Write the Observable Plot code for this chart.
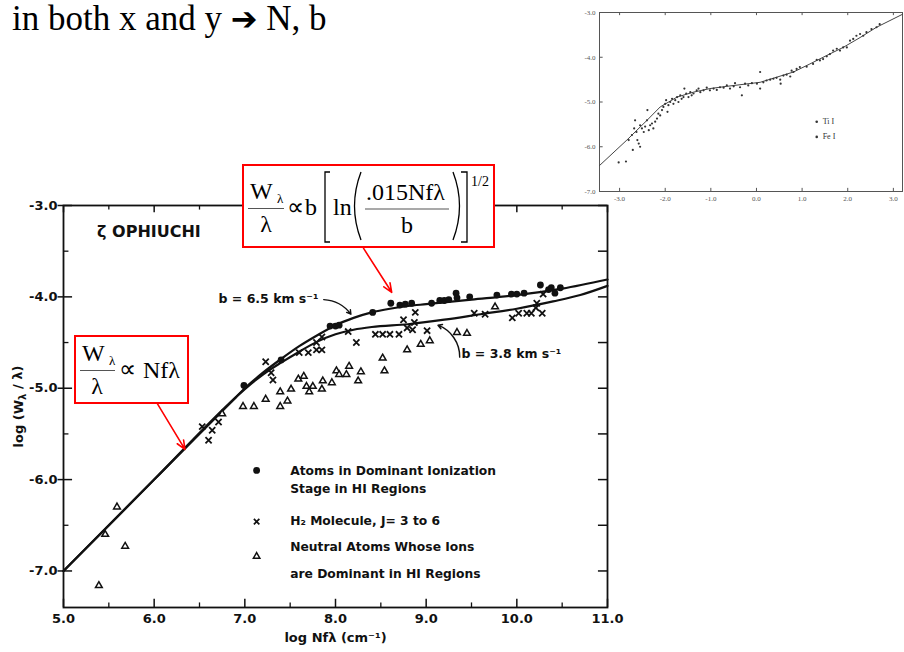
<!DOCTYPE html>
<html><head><meta charset="utf-8">
<script src="https://cdn.jsdelivr.net/npm/d3@7"></script>
<script src="https://cdn.jsdelivr.net/npm/@observablehq/plot@0.6"></script>
<style>
html,body{margin:0;padding:0;background:#fff;}
#page{position:relative;width:904px;height:652px;overflow:hidden;background:#fff;}
#title{position:absolute;left:12px;top:1px;font-family:"Liberation Serif",serif;font-size:35px;line-height:35px;color:#000;white-space:nowrap;}
#title .arr{font-family:"DejaVu Sans";font-weight:bold;font-size:32px;}
#main{position:absolute;left:0;top:150px;}
#inset{position:absolute;left:565px;top:0;}
#overlay{position:absolute;left:0;top:0;pointer-events:none;}
</style></head><body><div id="page">
<div id="title">in both x and y <span class="arr">➔</span> N, b</div>
<div id="inset"></div>
<div id="main"></div>
<div id="overlay"></div>
</div>
<script>
// ---------- main chart data (log Nfλ, log Wλ/λ) ----------
const xTicks = [5, 6, 7, 8, 9, 10, 11];
const xMinorTicks = [5.5, 6.5, 7.5, 8.5, 9.5, 10.5];
const yTicks = [-3, -4, -5, -6, -7];
const yMinorTicks = [-3.5, -4.5, -5.5, -6.5];

const ionX = [6.99,7.40,7.94,8.00,8.04,8.41,8.61,8.71,8.77,8.84,9.06,9.15,9.20,9.25,9.33,9.34,9.48,9.78,9.94,10.00,10.08,10.26,10.35,10.38,10.42,10.48];
const ionY = [-4.97,-4.69,-4.32,-4.32,-4.31,-4.17,-4.07,-4.09,-4.08,-4.07,-4.07,-4.04,-4.04,-4.03,-3.96,-4.01,-4.00,-3.98,-3.97,-3.97,-3.96,-3.87,-3.92,-3.90,-3.96,-3.90];

const h2X = [6.53,6.64,6.60,6.71,7.23,7.29,7.31,7.60,7.70,7.79,7.85,7.79,7.85,8.14,8.23,8.44,8.52,8.60,8.70,8.75,8.79,8.85,8.87,8.88,9.01,9.53,9.65,9.95,10.02,10.11,10.16,10.21,10.22,10.28,10.29];
const h2Y = [-5.42,-5.46,-5.57,-5.37,-4.71,-4.83,-4.91,-4.61,-4.61,-4.50,-4.44,-4.58,-4.58,-4.38,-4.50,-4.41,-4.41,-4.41,-4.41,-4.25,-4.34,-4.36,-4.28,-4.17,-4.37,-4.18,-4.19,-4.23,-4.18,-4.18,-4.18,-4.12,-4.07,-4.18,-3.97];

const neuX = [5.39,5.46,5.59,5.68,6.75,6.98,7.10,7.23,7.39,7.39,7.47,7.51,7.59,7.65,7.68,7.71,7.75,7.86,7.85,7.96,8.01,8.04,8.12,8.15,8.25,8.28,8.52,8.54,8.79,8.94,9.04,9.34,9.45,9.76];
const neuY = [-7.16,-6.60,-6.30,-6.73,-5.28,-5.20,-5.20,-5.12,-5.04,-5.20,-5.14,-5.01,-4.90,-4.87,-4.98,-5.04,-4.98,-4.92,-5.01,-4.94,-4.81,-4.85,-4.85,-4.76,-4.92,-4.82,-4.67,-4.81,-4.58,-4.52,-4.48,-4.39,-4.40,-4.11];

const curve65X = [5.0,6.0,6.9,7.0,7.2,7.4,7.6,7.8,8.0,8.2,8.4,8.6,8.8,9.0,9.5,10.0,10.5,11.0];
const curve65Y = [-7.0,-6.0,-5.1,-5.0,-4.83,-4.68,-4.54,-4.42,-4.31,-4.23,-4.17,-4.13,-4.10,-4.08,-4.03,-3.98,-3.91,-3.81];
const curve38X = [5.0,6.0,6.9,7.0,7.2,7.4,7.6,7.8,8.0,8.2,8.4,8.8,9.2,9.6,10.0,10.4,10.7,11.0];
const curve38Y = [-7.0,-6.0,-5.1,-5.01,-4.85,-4.72,-4.60,-4.49,-4.41,-4.36,-4.33,-4.30,-4.25,-4.19,-4.13,-4.05,-3.98,-3.88];

const legendLabels = ["Atoms in Dominant Ionization", "Stage in HI Regions", "H₂ Molecule, J= 3 to 6", "Neutral Atoms Whose Ions", "are Dominant in HI Regions"];

// ---------- inset chart data ----------
const insetTicksX = [-3, -2, -1, 0, 1, 2, 3];
const insetTicksY = [-3, -4, -5, -6, -7];
const insetX = [-3.02,-2.86,-2.80,-2.73,-2.68,-2.66,-2.61,-2.71,-2.58,-2.55,-2.63,-2.55,-2.51,-2.47,-2.44,-2.39,-2.40,-2.36,-2.33,-2.29,-2.26,-2.22,-2.18,-2.15,-2.11,-2.07,-2.04,-2.00,-1.98,-1.95,-1.93,-1.89,-1.85,-1.82,-1.78,-1.74,-1.71,-1.67,-1.64,-1.60,-1.58,-1.54,-1.49,-1.45,-1.42,-1.38,-1.31,-1.27,-1.23,-1.16,-1.09,-1.02,-0.94,-0.87,-0.80,-0.72,-0.65,-0.58,-0.50,-0.47,-0.36,-0.32,-0.25,-0.18,-0.10,0.01,0.08,0.08,0.15,0.22,0.30,0.37,0.44,0.52,0.53,0.59,0.66,0.74,0.77,0.81,0.88,0.95,1.10,1.24,1.32,1.39,1.46,1.54,1.61,1.68,1.76,1.83,1.90,1.98,2.05,2.12,2.19,2.27,2.34,2.41,2.52,2.63,2.70];
const insetY = [-6.35,-6.33,-5.85,-5.74,-5.59,-5.41,-5.85,-6.07,-5.93,-6.00,-5.67,-5.52,-5.59,-5.67,-5.55,-5.18,-5.41,-5.63,-5.52,-5.48,-5.59,-5.44,-5.37,-5.26,-5.30,-5.18,-5.11,-5.04,-4.96,-5.22,-5.07,-5.00,-4.93,-5.04,-4.96,-4.89,-5.00,-4.85,-4.93,-4.89,-4.70,-4.81,-4.89,-4.78,-4.85,-4.81,-4.74,-4.70,-4.78,-4.74,-4.68,-4.74,-4.70,-4.73,-4.67,-4.68,-4.63,-4.70,-4.65,-4.58,-4.67,-4.85,-4.59,-4.63,-4.58,-4.59,-4.33,-4.70,-4.56,-4.52,-4.50,-4.48,-4.46,-4.50,-4.59,-4.41,-4.39,-4.43,-4.30,-4.33,-4.26,-4.22,-4.21,-4.15,-4.06,-4.07,-4.04,-3.98,-3.93,-3.85,-3.81,-3.85,-3.78,-3.78,-3.63,-3.59,-3.52,-3.48,-3.52,-3.44,-3.37,-3.33,-3.26];
const insetCurveX = [-3.44,-2.84,-2.40,-2.11,-1.74,-1.38,-1.02,-0.65,0.08,0.81,1.17,1.54,1.90,2.27,2.63,3.2];
const insetCurveY = [-6.42,-5.85,-5.41,-5.11,-4.89,-4.78,-4.70,-4.65,-4.56,-4.33,-4.15,-3.96,-3.78,-3.56,-3.33,-3.04];
const insetLegend = ["Ti I", "Fe I"];

// ---------- build tables ----------
const zip = (xs, ys) => xs.map((x, i) => ({x, y: ys[i]}));
const ion = zip(ionX, ionY), h2 = zip(h2X, h2Y), neu = zip(neuX, neuY);
const c65 = zip(curve65X, curve65Y), c38 = zip(curve38X, curve38Y);
const fmt = d => d.toFixed(1);
const INK = "#111";

const main = Plot.plot({
  width: 640, height: 502,
  marginLeft: 63, marginRight: 33, marginTop: 55, marginBottom: 45,
  x: {domain: [5, 11]},
  y: {domain: [-7.4, -3.0]},
  style: {fontFamily: "DejaVu Sans", fontSize: "13px", fontWeight: "bold", color: INK, background: "transparent", overflow: "visible"},
  marks: [
    Plot.frame({stroke: INK, strokeWidth: 1.8}),
    Plot.axisX(xTicks, {tickSize: 0, tickPadding: 6, tickFormat: fmt, label: "log Nfλ (cm⁻¹)", labelAnchor: "center", labelOffset: 34, labelArrow: "none", fontSize: 13}),
    Plot.axisY(yTicks, {tickSize: 0, tickPadding: 6, tickFormat: fmt, label: "log (Wλ / λ)", labelAnchor: "center", labelOffset: 50, labelArrow: "none", fontSize: 13}),
    // inward ticks
    Plot.ruleX(xTicks, {x: d => d, y1: -7.4, y2: -7.31, stroke: INK, strokeWidth: 1.5}),
    Plot.ruleX(xMinorTicks, {x: d => d, y1: -7.4, y2: -7.35, stroke: INK, strokeWidth: 1.3}),
    Plot.ruleX(xTicks, {x: d => d, y1: -3.0, y2: -3.08, stroke: INK, strokeWidth: 1.5}),
    Plot.ruleX(xMinorTicks, {x: d => d, y1: -3.0, y2: -3.05, stroke: INK, strokeWidth: 1.3}),
    Plot.ruleY(yTicks, {y: d => d, x1: 4.94, x2: 5.1, stroke: INK, strokeWidth: 1.5}),
    Plot.ruleY(yMinorTicks, {y: d => d, x1: 5.0, x2: 5.06, stroke: INK, strokeWidth: 1.3}),
    Plot.ruleY(yTicks.concat(yMinorTicks), {y: d => d, x1: 11, x2: 10.9, stroke: INK, strokeWidth: 1.5}),
    // curves of growth
    Plot.line(c65, {x: "x", y: "y", curve: "monotone-x", stroke: INK, strokeWidth: 2.2}),
    Plot.line(c38, {x: "x", y: "y", curve: "monotone-x", stroke: INK, strokeWidth: 2.2}),
    // data
    Plot.dot(neu, {x: "x", y: "y", symbol: "triangle", r: 2.5, stroke: INK, strokeWidth: 1.5, fill: "white"}),
    Plot.dot(h2, {x: "x", y: "y", symbol: "times", r: 2.9, stroke: INK, strokeWidth: 1.8}),
    Plot.dot(ion, {x: "x", y: "y", r: 3.4, fill: INK, stroke: "none"}),
    // labels
    Plot.text([{x: 5.37, y: -3.29, t: "ζ OPHIUCHI"}], {x: "x", y: "y", text: "t", textAnchor: "start", fontSize: 16, fontWeight: "bold", fill: INK}),
    Plot.text([{x: 6.71, y: -4.02, t: "b = 6.5 km s⁻¹"}, {x: 9.39, y: -4.63, t: "b = 3.8 km s⁻¹"}], {x: "x", y: "y", text: "t", textAnchor: "start", fontSize: 12.5, fontWeight: "bold", fill: INK}),
    Plot.arrow([{x1: 7.87, y1: -4.03, x2: 8.17, y2: -4.19}], {x1: "x1", y1: "y1", x2: "x2", y2: "y2", bend: 25, headLength: 5, stroke: INK, strokeWidth: 1.4}),
    Plot.arrow([{x1: 9.37, y1: -4.66, x2: 9.13, y2: -4.31}], {x1: "x1", y1: "y1", x2: "x2", y2: "y2", bend: -35, headLength: 5, stroke: INK, strokeWidth: 1.4}),
    // legend
    Plot.dot([{x: 7.13, y: -5.90}], {x: "x", y: "y", r: 3.4, fill: INK}),
    Plot.dot([{x: 7.13, y: -6.46}], {x: "x", y: "y", symbol: "times", r: 2.6, stroke: INK, strokeWidth: 1.7}),
    Plot.dot([{x: 7.13, y: -6.84}], {x: "x", y: "y", symbol: "triangle", r: 2.4, stroke: INK, strokeWidth: 1.5}),
    Plot.text(legendLabels.map((t, i) => ({t, y: [-5.91, -6.10, -6.45, -6.74, -7.03][i]})), {x: () => 7.5, y: "y", text: "t", textAnchor: "start", fontSize: 12.3, fontWeight: "bold", fill: INK}),
    // red annotation arrows
    Plot.arrow([{x1: 8.31, y1: -3.47, x2: 8.62, y2: -3.95}, {x1: 6.03, y1: -5.16, x2: 6.34, y2: -5.67}], {x1: "x1", y1: "y1", x2: "x2", y2: "y2", stroke: "#ff0000", strokeWidth: 1.6, headLength: 9, headAngle: 45})
  ]
});
// subscript λ in y label
{
  const lab = main.querySelector('g[aria-label="y-axis label"] text');
  if (lab) {
    const sel = d3.select(lab); sel.text(null);
    sel.append("tspan").text("log (W");
    sel.append("tspan").attr("dy", "0.3em").attr("font-size", "10px").text("λ");
    sel.append("tspan").attr("dy", "-0.3em").text(" / λ)");
  }
}
document.getElementById("main").append(main);

// ---------- inset ----------
const inset = Plot.plot({
  width: 339, height: 210,
  marginLeft: 34, marginRight: 2, marginTop: 12, marginBottom: 19,
  x: {domain: [-3.44, 3.2]},
  y: {domain: [-7, -3]},
  style: {fontFamily: "Liberation Serif", fontSize: "7px", color: "#555", background: "transparent"},
  marks: [
    Plot.frame({stroke: "#555", strokeWidth: 1}),
    Plot.axisX(insetTicksX, {tickSize: 0, tickPadding: 5, tickFormat: fmt, label: null}),
    Plot.axisY(insetTicksY, {tickSize: 0, tickPadding: 4, tickFormat: fmt, label: null}),
    Plot.ruleX(insetTicksX, {x: d => d, y1: -7, y2: -6.93, stroke: "#555"}),
    Plot.ruleX(insetTicksX, {x: d => d, y1: -3, y2: -3.07, stroke: "#555"}),
    Plot.ruleY(insetTicksY, {y: d => d, x1: -3.44, x2: -3.36, stroke: "#555"}),
    Plot.line(zip(insetCurveX, insetCurveY), {x: "x", y: "y", stroke: "#444", strokeWidth: 1}),
    Plot.dot(zip(insetX, insetY), {x: "x", y: "y", r: 1.1, fill: "#333", stroke: "none"}),
    Plot.dot(insetLegend.map((t, i) => ({y: [-5.44, -5.78][i]})), {x: () => 1.32, y: "y", r: 1.3, fill: "#333"}),
    Plot.text(insetLegend.map((t, i) => ({t, y: [-5.44, -5.78][i]})), {x: () => 1.45, y: "y", text: "t", textAnchor: "start", fontSize: 8, fill: "#333"})
  ]
});
document.getElementById("inset").append(inset);

// ---------- formula boxes (annotation overlay) ----------
const ov = d3.create("svg").attr("width", 904).attr("height", 652)
  .style("font-family", "Liberation Serif, serif").attr("fill", "#000");
function txt(x, y, s, size = 24, anchor = "start") {
  ov.append("text").attr("x", x).attr("y", y).attr("font-size", size).attr("text-anchor", anchor).text(s);
}
function ln(x1, y1, x2, y2) {
  ov.append("line").attr("x1", x1).attr("y1", y1).attr("x2", x2).attr("y2", y2).attr("stroke", "#555").attr("stroke-width", 1.2);
}
function path(d) {
  ov.append("path").attr("d", d).attr("fill", "none").attr("stroke", "#000").attr("stroke-width", 1.3);
}
// box 1
ov.append("rect").attr("x", 243).attr("y", 165).attr("width", 251).attr("height", 82).attr("fill", "white").attr("stroke", "red").attr("stroke-width", 2);
txt(250, 199, "W"); txt(277, 203, "λ", 13);
ln(248, 208.5, 284, 208.5);
txt(266, 232, "λ", 24, "middle");
txt(287, 215, "∝"); txt(305, 215, "b");
path("M330,172 H325 V242 H330");
txt(333, 215, "ln");
path("M361,172 Q348,206 361,240");
txt(366, 200, ".015Nfλ");
ln(365, 209, 449, 209);
txt(407, 233, "b", 24, "middle");
path("M453,172 Q466,206 453,240");
path("M461,172 H467 V242 H461");
txt(471, 186, "1/2", 14);
// box 2
ov.append("rect").attr("x", 75).attr("y", 336).attr("width", 113).attr("height", 67).attr("fill", "white").attr("stroke", "red").attr("stroke-width", 2);
txt(82, 361, "W"); txt(109, 365, "λ", 13);
ln(80, 370.5, 115, 370.5);
txt(97, 394, "λ", 24, "middle");
txt(119, 377, "∝"); txt(143, 378, "Nfλ");
document.getElementById("overlay").append(ov.node());
</script>
</body></html>
